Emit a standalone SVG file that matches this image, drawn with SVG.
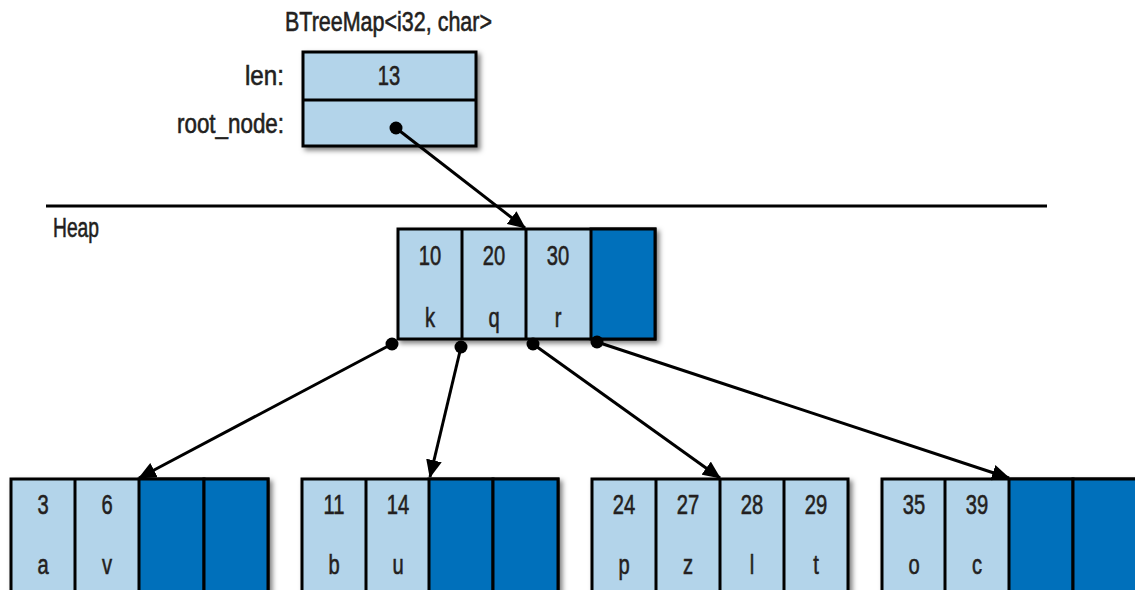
<svg xmlns="http://www.w3.org/2000/svg" width="1135" height="590" viewBox="0 0 1135 590">
<style>
text{font-family:"Liberation Sans",Arial,sans-serif;font-size:28px;fill:#231f20;stroke:#231f20;stroke-width:0.6}
.c{text-anchor:middle;transform-box:fill-box;transform-origin:center;transform:scaleX(0.72)}
.r{text-anchor:end}
.lb{font-size:27px}
.lt{fill:#b3d4ea;stroke:#000;stroke-width:3}
.dk{fill:#0070bb;stroke:#000;stroke-width:3}
.ln{stroke:#000;stroke-width:3;fill:none}
.con{stroke:#000;stroke-width:3;fill:none;marker-end:url(#ah)}
</style>
<defs>
<filter id="sh" x="-10%" y="-10%" width="130%" height="140%">
<feDropShadow dx="3" dy="3" stdDeviation="2.5" flood-color="#000" flood-opacity="0.5"/>
</filter>
<marker id="ah" viewBox="0 0 18 16" refX="17" refY="8" markerWidth="18" markerHeight="16" markerUnits="userSpaceOnUse" orient="auto">
<path d="M0,0 L18,8 L0,16 Z" fill="#000"/>
</marker>
</defs>

<g id="btreemap">
<text x="285" y="31" class="lb" textLength="207" lengthAdjust="spacingAndGlyphs">BTreeMap&lt;i32, char&gt;</text>
<text x="284" y="85" class="lb r" textLength="39" lengthAdjust="spacingAndGlyphs">len:</text>
<text x="284" y="133" class="lb r" textLength="107" lengthAdjust="spacingAndGlyphs">root_node:</text>
<g filter="url(#sh)">
<rect x="303" y="52" width="173" height="94" class="lt"/>
</g>
<line x1="303" y1="100" x2="476" y2="100" class="ln"/>
<text x="389" y="85" class="c">13</text>
</g>

<line id="heap-line" x1="46" y1="206" x2="1047" y2="206" class="ln"/>
<text id="heap-label" x="53" y="237" class="lb" textLength="46" lengthAdjust="spacingAndGlyphs">Heap</text>

<g id="root">
<g filter="url(#sh)">
<rect x="398" y="229" width="257" height="110" class="lt"/>
</g>
<rect x="591" y="229" width="64" height="110" class="dk"/>
<line x1="462" y1="229" x2="462" y2="339" class="ln"/>
<line x1="526" y1="229" x2="526" y2="339" class="ln"/>
<text x="430" y="265" class="c">10</text><text x="430" y="327" class="c">k</text>
<text x="494" y="265" class="c">20</text><text x="494" y="327" class="c">q</text>
<text x="558" y="265" class="c">30</text><text x="558" y="327" class="c">r</text>
</g>

<g id="leaf1">
<g filter="url(#sh)">
<rect x="11" y="479" width="257" height="125" class="lt"/>
</g>
<rect x="139" y="479" width="65" height="125" class="dk"/>
<rect x="204" y="479" width="64" height="125" class="dk"/>
<line x1="75" y1="479" x2="75" y2="604" class="ln"/>
<text x="43" y="514" class="c">3</text><text x="43" y="574" class="c">a</text>
<text x="107" y="514" class="c">6</text><text x="107" y="574" class="c">v</text>
</g>

<g id="leaf2">
<g filter="url(#sh)">
<rect x="302" y="479" width="256" height="125" class="lt"/>
</g>
<rect x="429" y="479" width="64" height="125" class="dk"/>
<rect x="493" y="479" width="65" height="125" class="dk"/>
<line x1="366" y1="479" x2="366" y2="604" class="ln"/>
<text x="334" y="514" class="c">11</text><text x="334" y="574" class="c">b</text>
<text x="398" y="514" class="c">14</text><text x="398" y="574" class="c">u</text>
</g>

<g id="leaf3">
<g filter="url(#sh)">
<rect x="592" y="479" width="256" height="125" class="lt"/>
</g>
<line x1="656" y1="479" x2="656" y2="604" class="ln"/>
<line x1="720" y1="479" x2="720" y2="604" class="ln"/>
<line x1="784" y1="479" x2="784" y2="604" class="ln"/>
<text x="624" y="514" class="c">24</text><text x="624" y="574" class="c">p</text>
<text x="688" y="514" class="c">27</text><text x="688" y="574" class="c">z</text>
<text x="752" y="514" class="c">28</text><text x="752" y="574" class="c">l</text>
<text x="816" y="514" class="c">29</text><text x="816" y="574" class="c">t</text>
</g>

<g id="leaf4">
<g filter="url(#sh)">
<rect x="882" y="479" width="256" height="125" class="lt"/>
</g>
<rect x="1009" y="479" width="64" height="125" class="dk"/>
<rect x="1073" y="479" width="65" height="125" class="dk"/>
<line x1="945" y1="479" x2="945" y2="604" class="ln"/>
<text x="914" y="514" class="c">35</text><text x="914" y="574" class="c">o</text>
<text x="977" y="514" class="c">39</text><text x="977" y="574" class="c">c</text>
</g>

<g id="connectors">
<circle cx="396" cy="128" r="6.5" fill="#000"/>
<line x1="396" y1="128" x2="525" y2="228" class="con"/>
<circle cx="392" cy="344" r="6.5" fill="#000"/>
<line x1="392" y1="344" x2="139" y2="478" class="con"/>
<circle cx="461" cy="347" r="6.5" fill="#000"/>
<line x1="461" y1="347" x2="430" y2="477" class="con"/>
<circle cx="533" cy="344" r="6.5" fill="#000"/>
<line x1="533" y1="344" x2="720" y2="478" class="con"/>
<circle cx="597" cy="342" r="6.5" fill="#000"/>
<line x1="597" y1="342" x2="1009" y2="478" class="con"/>
</g>
</svg>
